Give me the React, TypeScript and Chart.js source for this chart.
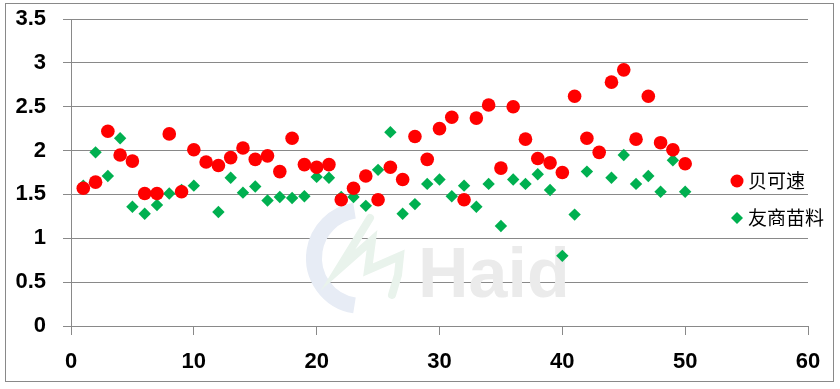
import React, { useEffect, useRef } from "react";
import { Chart, registerables } from "chart.js";

Chart.register(...registerables);

const xValues = [1,2,3,4,5,6,7,8,9,10,11,12,13,14,15,16,17,18,19,20,21,22,23,24,25,26,27,28,29,30,31,32,33,34,35,36,37,38,39,40,41,42,43,44,45,46,47,48,49,50];

const beikesu = [1.57,1.64,2.22,1.95,1.88,1.51,1.51,2.19,1.53,2.01,1.87,1.83,1.92,2.03,1.90,1.94,1.76,2.14,1.84,1.81,1.84,1.44,1.57,1.71,1.44,1.81,1.67,2.16,1.90,2.25,2.38,1.44,2.37,2.52,1.80,2.50,2.13,1.91,1.86,1.75,2.62,2.14,1.98,2.78,2.92,2.13,2.62,2.09,2.01,1.85];

const youshang = [1.60,1.98,1.71,2.14,1.36,1.28,1.38,1.51,1.55,1.60,1.87,1.30,1.69,1.52,1.59,1.43,1.47,1.46,1.48,1.70,1.69,1.47,1.47,1.37,1.78,2.21,1.28,1.39,1.62,1.67,1.48,1.60,1.36,1.62,1.14,1.67,1.62,1.73,1.55,0.80,1.27,1.76,1.98,1.69,1.95,1.62,1.71,1.53,1.89,1.53];

const seriesNames = ["贝可速", "友商苗料"];
const seriesColors = ["#FF0000", "#00B050"];

const watermarkPlugin = {
  id: "watermark",
  beforeDatasetsDraw(chart: any) {
    const ctx = chart.ctx;
    ctx.save();
    ctx.strokeStyle = "#E7ECF5";
    ctx.lineWidth = 16;
    ctx.beginPath();
    ctx.arc(362, 258, 48, Math.PI * 0.55, Math.PI * 1.45);
    ctx.stroke();
    ctx.strokeStyle = "#E9F3EC";
    ctx.lineWidth = 8;
    ctx.lineCap = "round";
    ctx.beginPath();
    ctx.moveTo(370, 218);
    ctx.lineTo(338, 270);
    ctx.lineTo(372, 240);
    ctx.lineTo(368, 270);
    ctx.lineTo(400, 256);
    ctx.lineTo(398, 275);
    ctx.lineTo(392, 295);
    ctx.stroke();
    ctx.fillStyle = "#EBEBEB";
    ctx.font = "bold 70px 'Liberation Sans', Arial, sans-serif";
    ctx.textBaseline = "alphabetic";
    ctx.textAlign = "left";
    ctx.fillText("Haid", 418, 297);
    ctx.restore();
  },
};

const legendPlugin = {
  id: "customLegend",
  afterDraw(chart: any) {
    const ctx = chart.ctx;
    ctx.save();
    const items = [
      { y: 181, shape: "circle" },
      { y: 218, shape: "diamond" },
    ];
    items.forEach((it, i) => {
      ctx.fillStyle = seriesColors[i];
      ctx.beginPath();
      if (it.shape === "circle") {
        ctx.arc(737, it.y, 6.5, 0, Math.PI * 2);
      } else {
        ctx.moveTo(737, it.y - 6);
        ctx.lineTo(743, it.y);
        ctx.lineTo(737, it.y + 6);
        ctx.lineTo(731, it.y);
        ctx.closePath();
      }
      ctx.fill();
      ctx.fillStyle = "#000000";
      ctx.font = "19px 'Noto Sans CJK SC', sans-serif";
      ctx.textBaseline = "middle";
      ctx.textAlign = "left";
      ctx.fillText(seriesNames[i], 748, it.y);
    });
    ctx.restore();
  },
};

export default function App() {
  const ref = useRef<HTMLCanvasElement | null>(null);

  useEffect(() => {
    document.body.style.margin = "0";
    const canvas = ref.current;
    if (!canvas) return;
    const chart = new Chart(canvas, {
      type: "scatter",
      data: {
        datasets: [
          {
            label: seriesNames[0],
            data: xValues.map((x, i) => ({ x, y: beikesu[i] })),
            backgroundColor: seriesColors[0],
            borderColor: seriesColors[0],
            pointStyle: "circle",
            pointRadius: 6.8,
            borderWidth: 0,
          },
          {
            label: seriesNames[1],
            data: xValues.map((x, i) => ({ x, y: youshang[i] })),
            backgroundColor: seriesColors[1],
            borderColor: seriesColors[1],
            pointStyle: "rectRot",
            pointRadius: 6.2,
            borderWidth: 0,
          },
        ],
      },
      options: {
        animation: false,
        responsive: false,
        maintainAspectRatio: false,
        layout: { padding: { top: 19, right: 32, bottom: 0, left: 0 } },
        plugins: {
          legend: { display: false },
          tooltip: { enabled: false },
        },
        scales: {
          x: {
            type: "linear",
            min: 0,
            max: 60,
            afterFit: (s: any) => { s.height = 63; s.paddingLeft = 0; s.paddingRight = 0; },
            ticks: {
              stepSize: 10,
              color: "#000",
              padding: 14,
              maxRotation: 0,
              callback: (v: any) => String(Number(v)),
              font: { family: "'Liberation Sans', Arial, sans-serif", size: 22, weight: "bold" },
            },
            grid: {
              drawOnChartArea: false,
              drawTicks: true,
              tickLength: 9,
              color: "#898989",
            },
            border: { display: true, color: "#898989", width: 1 },
          },
          y: {
            type: "linear",
            min: 0,
            max: 3.5,
            afterFit: (s: any) => { s.width = 71; s.paddingTop = 0; s.paddingBottom = 0; },
            ticks: {
              stepSize: 0.5,
              color: "#000",
              padding: 17,
              callback: (v: any) => String(Number(v)),
              font: { family: "'Liberation Sans', Arial, sans-serif", size: 22, weight: "bold" },
            },
            grid: {
              drawOnChartArea: true,
              drawTicks: true,
              tickLength: 8,
              color: "#898989",
              lineWidth: 1,
            },
            border: { display: true, color: "#898989", width: 1 },
          },
        },
      },
      plugins: [watermarkPlugin, legendPlugin],
    });
    return () => chart.destroy();
  }, []);

  return (
    <div style={{ position: "relative", width: 840, height: 389, background: "#fff" }}>
      <canvas ref={ref} width={840} height={389} style={{ display: "block", width: 840, height: 389 }} />
      <div
        style={{
          position: "absolute",
          left: 5,
          top: 3,
          width: 827,
          height: 377,
          border: "1px solid #898989",
          pointerEvents: "none",
        }}
      />
    </div>
  );
}
